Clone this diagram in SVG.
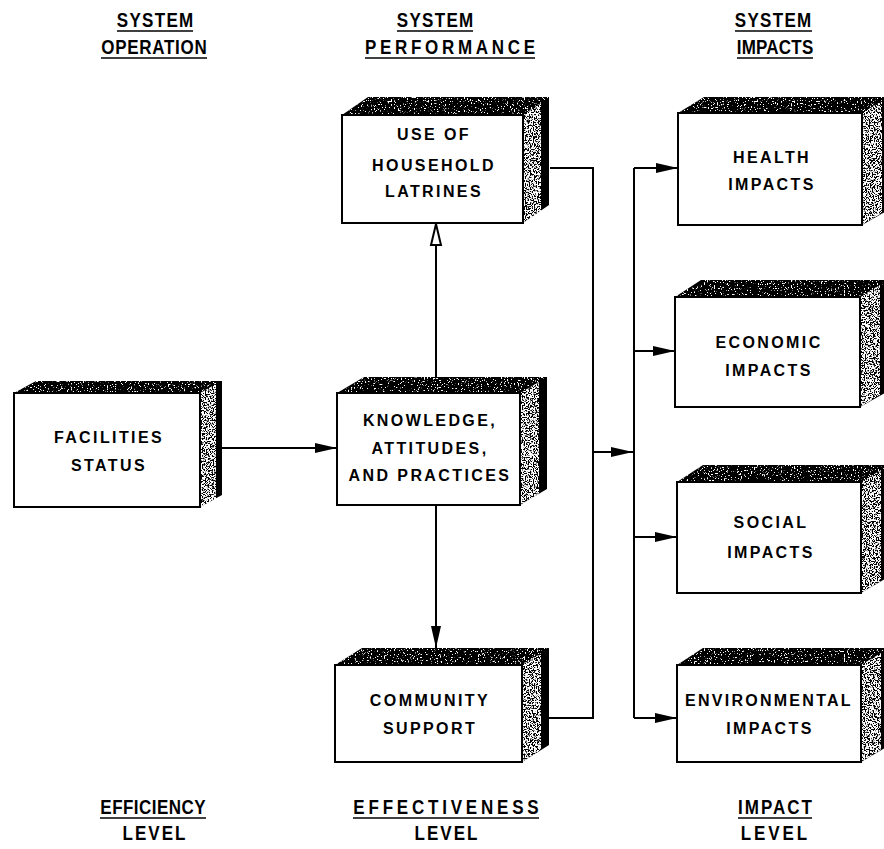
<svg xmlns="http://www.w3.org/2000/svg" width="884" height="849" viewBox="0 0 884 849">
<defs>
<style>
.front{fill:#fff;stroke:#000;stroke-width:2}
.dark{fill:#000}
.spk{fill:#fff}
.bt{font-family:"Liberation Sans",Arial,sans-serif;font-weight:bold;font-size:16px;letter-spacing:2.4px;text-anchor:middle;fill:#000}
.hd{font-family:"Liberation Sans",Arial,sans-serif;font-weight:bold;font-size:20px;text-anchor:middle;fill:#000}
.ul{stroke:#000;stroke-width:1.6}
.ln{fill:none;stroke:#000;stroke-width:2}
</style>
<filter id="speckS" x="0" y="0" width="1" height="1">
<feTurbulence type="fractalNoise" baseFrequency="0.75" numOctaves="2" seed="4" result="t"/>
<feColorMatrix in="t" type="matrix" values="0 0 0 0 1  0 0 0 0 1  0 0 0 0 1  14 0 0 0 -6.2" result="w"/>
<feComposite in="w" in2="SourceGraphic" operator="in"/>
</filter>
<filter id="speckT" x="0" y="0" width="1" height="1">
<feTurbulence type="fractalNoise" baseFrequency="0.7" numOctaves="2" seed="9" result="t"/>
<feColorMatrix in="t" type="matrix" values="0 0 0 0 1  0 0 0 0 1  0 0 0 0 1  14 0 0 0 -8.6" result="w"/>
<feComposite in="w" in2="SourceGraphic" operator="in"/>
</filter>
<marker id="ah" markerUnits="userSpaceOnUse" markerWidth="24" markerHeight="12" refX="22" refY="6" orient="auto">
<path d="M0,1 L22,6 L0,11 z" fill="#000"/>
</marker>
<marker id="ahOpen" markerUnits="userSpaceOnUse" markerWidth="26" markerHeight="14" refX="22" refY="7" orient="auto">
<path d="M1,2 L22,7 L1,12 z" fill="#fff" stroke="#000" stroke-width="2"/>
</marker>
</defs>
<rect width="884" height="849" fill="#fff"/>

<g id="headers">
<text class="hd" transform="translate(155,27) scale(0.85,1)" textLength="90" lengthAdjust="spacing">SYSTEM</text>
<line class="ul" x1="117" y1="31" x2="193" y2="31"/>
<text class="hd" transform="translate(154,54) scale(0.85,1)" textLength="124" lengthAdjust="spacing">OPERATION</text>
<line class="ul" x1="101" y1="58" x2="207" y2="58"/>
<text class="hd" transform="translate(435,27) scale(0.85,1)" textLength="90" lengthAdjust="spacing">SYSTEM</text>
<line class="ul" x1="397" y1="31" x2="473" y2="31"/>
<text class="hd" transform="translate(450,54) scale(0.85,1)" textLength="200" lengthAdjust="spacing">PERFORMANCE</text>
<line class="ul" x1="365" y1="58" x2="535" y2="58"/>
<text class="hd" transform="translate(773,27) scale(0.85,1)" textLength="90" lengthAdjust="spacing">SYSTEM</text>
<line class="ul" x1="735" y1="31" x2="812" y2="31"/>
<text class="hd" transform="translate(775,54) scale(0.85,1)" textLength="90" lengthAdjust="spacing">IMPACTS</text>
<line class="ul" x1="737" y1="58" x2="813" y2="58"/>
</g>

<g id="footers">
<text class="hd" transform="translate(153,814) scale(0.85,1)" textLength="124" lengthAdjust="spacing">EFFICIENCY</text>
<line class="ul" x1="100" y1="818" x2="206" y2="818"/>
<text class="hd" transform="translate(154,840) scale(0.85,1)" textLength="74" lengthAdjust="spacing">LEVEL</text>
<text class="hd" transform="translate(446,814) scale(0.85,1)" textLength="218" lengthAdjust="spacing">EFFECTIVENESS</text>
<line class="ul" x1="353" y1="818" x2="539" y2="818"/>
<text class="hd" transform="translate(446,840) scale(0.85,1)" textLength="74" lengthAdjust="spacing">LEVEL</text>
<text class="hd" transform="translate(775,814) scale(0.85,1)" textLength="87" lengthAdjust="spacing">IMPACT</text>
<line class="ul" x1="738" y1="818" x2="812" y2="818"/>
<text class="hd" transform="translate(774,840) scale(0.85,1)" textLength="78" lengthAdjust="spacing">LEVEL</text>
</g>

<g id="connectors">
<path class="ln" d="M222,448 L337,448" marker-end="url(#ah)"/>
<path class="ln" d="M436,393 L436,224" marker-end="url(#ahOpen)"/>
<path class="ln" d="M436,505 L436,648" marker-end="url(#ah)"/>
<path class="ln" d="M550,168 L593,168 L593,718 L549,718"/>
<path class="ln" d="M593,452 L633,452" marker-end="url(#ah)"/>
<path class="ln" d="M634,168 L634,718"/>
<path class="ln" d="M634,168 L678,168" marker-end="url(#ah)"/>
<path class="ln" d="M634,351 L675,351" marker-end="url(#ah)"/>
<path class="ln" d="M634,537 L677,537" marker-end="url(#ah)"/>
<path class="ln" d="M634,718 L677,718" marker-end="url(#ah)"/>
</g>

<g id="facilities">
<polygon class="dark" points="14,393 36,381 222,381 222,495 200,507 200,393"/>
<polygon class="spk" filter="url(#speckT)" points="14,393 36,381 222,381 200,393"/>
<polygon class="spk" filter="url(#speckS)" points="200,393 216,384 216,499 200,507"/>
<rect class="front" x="14" y="393" width="186" height="114"/>
<text class="bt" x="109" y="443">FACILITIES</text>
<text class="bt" x="109" y="471">STATUS</text>
</g>

<g id="latrines">
<polygon class="dark" points="342,115 368,97 549,97 549,205 523,223 523,115"/>
<polygon class="spk" filter="url(#speckT)" points="342,115 368,97 549,97 523,115"/>
<polygon class="spk" filter="url(#speckS)" points="523,115 541,103 541,211 523,223"/>
<rect class="front" x="342" y="115" width="181" height="108"/>
<text class="bt" x="434" y="140">USE OF</text>
<text class="bt" x="434" y="171">HOUSEHOLD</text>
<text class="bt" x="434" y="197">LATRINES</text>
</g>

<g id="knowledge">
<polygon class="dark" points="337,393 364,377 547,377 547,489 520,505 520,393"/>
<polygon class="spk" filter="url(#speckT)" points="337,393 364,377 547,377 520,393"/>
<polygon class="spk" filter="url(#speckS)" points="520,393 539,382 539,494 520,505"/>
<rect class="front" x="337" y="393" width="183" height="112"/>
<text class="bt" x="430" y="426">KNOWLEDGE,</text>
<text class="bt" x="430" y="454">ATTITUDES,</text>
<text class="bt" x="430" y="481">AND PRACTICES</text>
</g>

<g id="community">
<polygon class="dark" points="335,665 362,648 549,648 549,745 522,762 522,665"/>
<polygon class="spk" filter="url(#speckT)" points="335,665 362,648 549,648 522,665"/>
<polygon class="spk" filter="url(#speckS)" points="522,665 541,653 541,750 522,762"/>
<rect class="front" x="335" y="665" width="187" height="97"/>
<text class="bt" x="430" y="706">COMMUNITY</text>
<text class="bt" x="430" y="734">SUPPORT</text>
</g>

<g id="health">
<polygon class="dark" points="678,113 704,97 890,97 890,209 862,225 862,113"/>
<polygon class="spk" filter="url(#speckT)" points="678,113 704,97 890,97 862,113"/>
<polygon class="spk" filter="url(#speckS)" points="862,113 882,101 882,213 862,225"/>
<rect class="front" x="678" y="113" width="184" height="112"/>
<text class="bt" x="772" y="163">HEALTH</text>
<text class="bt" x="772" y="190">IMPACTS</text>
</g>

<g id="economic">
<polygon class="dark" points="675,297 701,280 890,280 890,390 860,407 860,297"/>
<polygon class="spk" filter="url(#speckT)" points="675,297 701,280 890,280 860,297"/>
<polygon class="spk" filter="url(#speckS)" points="860,297 880,285 880,395 860,407"/>
<rect class="front" x="675" y="297" width="185" height="110"/>
<text class="bt" x="769" y="348">ECONOMIC</text>
<text class="bt" x="769" y="376">IMPACTS</text>
</g>

<g id="social">
<polygon class="dark" points="677,482 703,465 890,465 890,576 861,593 861,482"/>
<polygon class="spk" filter="url(#speckT)" points="677,482 703,465 890,465 861,482"/>
<polygon class="spk" filter="url(#speckS)" points="861,482 881,470 881,581 861,593"/>
<rect class="front" x="677" y="482" width="184" height="111"/>
<text class="bt" x="771" y="528">SOCIAL</text>
<text class="bt" x="771" y="558">IMPACTS</text>
</g>

<g id="environmental">
<polygon class="dark" points="677,665 703,648 890,648 890,745 861,762 861,665"/>
<polygon class="spk" filter="url(#speckT)" points="677,665 703,648 890,648 861,665"/>
<polygon class="spk" filter="url(#speckS)" points="861,665 881,653 881,750 861,762"/>
<rect class="front" x="677" y="665" width="184" height="97"/>
<text class="bt" x="769" y="706" textLength="168" lengthAdjust="spacing">ENVIRONMENTAL</text>
<text class="bt" x="770" y="734">IMPACTS</text>
</g>
</svg>
